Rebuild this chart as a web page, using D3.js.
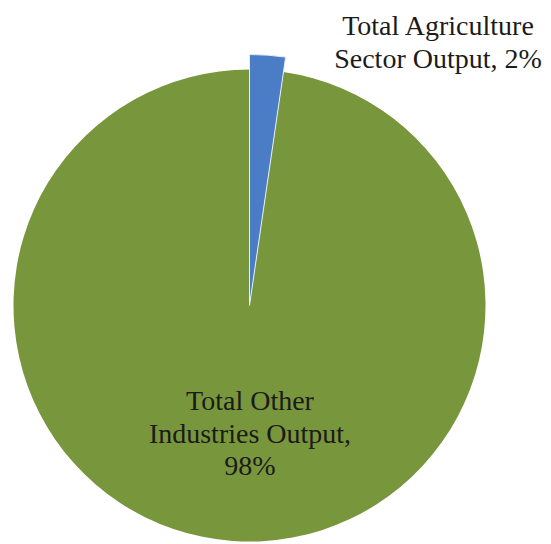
<!DOCTYPE html>
<html>
<head>
<meta charset="utf-8">
<script src="https://cdn.jsdelivr.net/npm/d3@7"></script>
<style>
  html, body { margin: 0; padding: 0; background: #ffffff; }
  svg { display: block; }
  text { font-family: "Liberation Serif", "Times New Roman", serif; fill: #1b1b1b; }
</style>
</head>
<body>
<svg id="chart" width="551" height="544"></svg>
<script>
// ---- data ----
const categories = ["Total Agriculture Sector Output", "Total Other Industries Output"];
const shares = [2.3, 97.7];
const labelLines = [
  ["Total Agriculture", "Sector Output, 2%"],
  ["Total Other", "Industries Output,", "98%"]
];
const colors = ["#4A7DC6", "#78963B"];

// ---- layout ----
const W = 551, H = 544;
const cx = 249.5, cy = 305.5, R = 236, Rhighlight = 251;
const svg = d3.select("#chart");

const data = categories.map((c, i) => ({ name: c, value: shares[i], lines: labelLines[i], color: colors[i], idx: i }));

const pie = d3.pie().sort(null).value(d => d.value);
const arcs = pie(data);

const arcGen = d3.arc()
  .innerRadius(0)
  .outerRadius(d => d.data.idx === 0 ? Rhighlight : R);

const g = svg.append("g").attr("transform", `translate(${cx},${cy})`);

// draw the big slice first, then the highlighted small slice on top
const order = arcs.slice().sort((a, b) => b.value - a.value);
g.selectAll("path.slice")
  .data(order)
  .join("path")
  .attr("class", "slice")
  .attr("d", arcGen)
  .attr("fill", d => d.data.color)
  .attr("stroke", d => d.data.idx === 0 ? "#e8eef8" : "none")
  .attr("stroke-width", d => d.data.idx === 0 ? 1 : 0)
  .attr("stroke-linejoin", "miter");

// ---- labels ----
const fontSize = 28, lineH = 32.5;
const labelPos = [
  { x: 438, y: 35 },   // outside label for small slice (first baseline)
  { x: 250, y: 410 }   // inside label for big slice (first baseline)
];

arcs.forEach((a, i) => {
  const p = labelPos[i];
  const t = svg.append("text")
    .attr("text-anchor", "middle")
    .attr("font-size", fontSize);
  a.data.lines.forEach((ln, j) => {
    t.append("tspan")
      .attr("x", p.x)
      .attr("y", p.y + j * lineH)
      .text(ln);
  });
});
</script>
</body>
</html>
